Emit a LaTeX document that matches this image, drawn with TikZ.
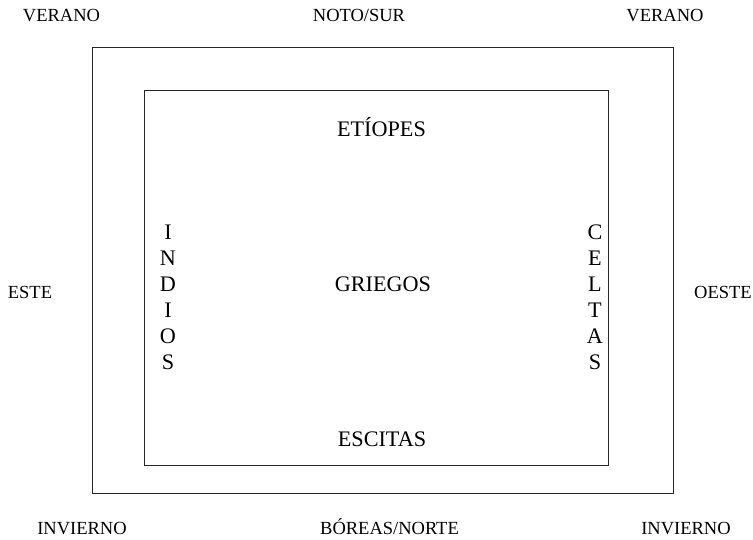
\documentclass[tikz,border=0pt]{standalone}
\usepackage{fontspec}
\setmainfont{Liberation Serif}
\tikzset{
  smalllabel/.style={inner sep=0pt,font=\fontsize{18.5pt}{20pt}\selectfont,anchor=base},
  biglabel/.style={inner sep=0pt,font=\fontsize{22.2pt}{24pt}\selectfont,anchor=base},
  vertlabel/.style={inner sep=0pt,font=\fontsize{22.2pt}{26pt}\selectfont,align=center,anchor=center},
  frame/.style={draw=black!85,line width=0.75pt}
}
\begin{document}
\begin{tikzpicture}[x=1pt,y=-1pt]
\useasboundingbox (0,0) rectangle (753,540);
\node[frame,minimum width=581.5pt,minimum height=446pt,inner sep=0pt] (outer) at (382.75,270.5) {};
\node[frame,minimum width=463.5pt,minimum height=374.5pt,inner sep=0pt] (inner) at (376.25,278) {};
\node[smalllabel] (v1) at (61.5,22) {VERANO};
\node[smalllabel] (n) at (359,22) {NOTO/SUR};
\node[smalllabel] (v2) at (665,22) {VERANO};
\node[smalllabel] (e) at (30,299) {ESTE};
\node[smalllabel] (o) at (723,299) {OESTE};
\node[smalllabel] (i1) at (82,534) {INVIERNO};
\node[smalllabel] (b) at (389.5,534) {BÓREAS/NORTE};
\node[smalllabel] (i2) at (686,534) {INVIERNO};
\node[biglabel] (et) at (381.5,137) {ETÍOPES};
\node[biglabel] (gr) at (383,292) {GRIEGOS};
\node[biglabel] (es) at (382,446.5) {ESCITAS};
\node[vertlabel] (ind) at (168,297.5) {I\\N\\D\\I\\O\\S};
\node[vertlabel] (cel) at (595,297.5) {C\\E\\L\\T\\A\\S};
\end{tikzpicture}
\end{document}
